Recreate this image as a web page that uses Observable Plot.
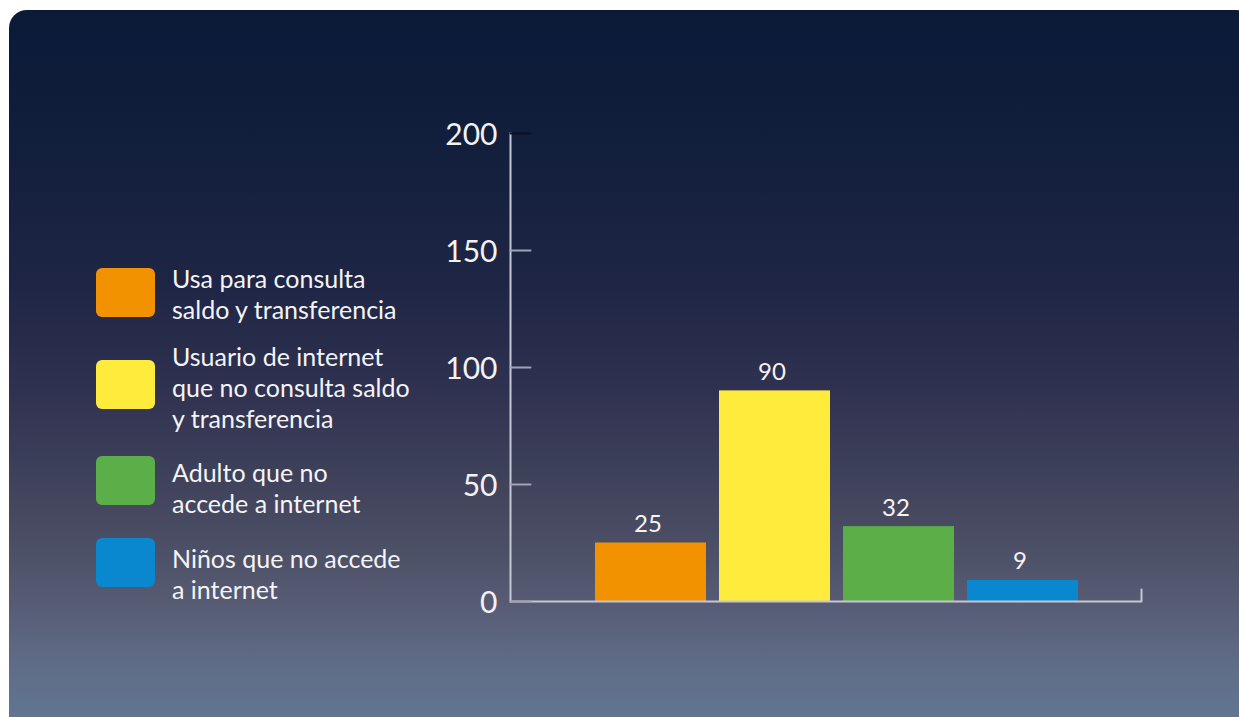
<!DOCTYPE html>
<html><head><meta charset="utf-8">
<script src="https://cdn.jsdelivr.net/npm/d3@7"></script>
<script src="https://cdn.jsdelivr.net/npm/@observablehq/plot@0.6"></script>
<style>
html,body{margin:0;padding:0;background:#fff;}
#wrap{position:relative;width:1239px;height:717px;overflow:hidden;font-family:Lato,"Open Sans",sans-serif;}
#panel{position:absolute;left:9px;top:10px;width:1245px;height:725px;border-radius:18px;
background:linear-gradient(to bottom,#0a1a37 0%,#111e3c 18%,#1f2645 38%,#2f3150 52%,#46495f 70%,#575c74 82%,#5f6c87 90%,#627793 100%);}
#legend,#chart{position:absolute;left:0;top:0;}
</style></head>
<body><div id="wrap"><div id="panel"></div><svg id="legend" width="1239" height="717"></svg><div id="chart"></div></div>
<script>
const categories = ["Usa para consulta saldo y transferencia","Usuario de internet que no consulta saldo y transferencia","Adulto que no accede a internet","Niños que no accede a internet"];
const values = [25, 90, 32, 9];
const colors = ["#f39200", "#ffeb3b", "#5cae48", "#0a88cf"];
const legendLines = [
  ["Usa para consulta", "saldo y transferencia"],
  ["Usuario de internet", "que no consulta saldo", "y transferencia"],
  ["Adulto que no", "accede a internet"],
  ["Niños que no accede", "a internet"]
];
const yTicks = [0, 50, 100, 150, 200];

const data = categories.map((c, i) => ({cat: c, value: values[i], color: colors[i]}));
const lineShape = {draw(ctx, l) { ctx.moveTo(0, 0); ctx.lineTo(0, -l); }};
const axisColor = "#c4c7d4";

const chart = Plot.plot({
  width: 1239, height: 717,
  marginLeft: 510, marginRight: 98, marginTop: 133, marginBottom: 116,
  style: {background: "transparent", color: "#f2f2f4", fontFamily: "Lato, 'Open Sans', sans-serif", overflow: "visible"},
  x: {domain: categories, range: [588.5, 1084.5], paddingInner: 0.105, paddingOuter: 0.0525, axis: null},
  y: {domain: [0, 200], axis: null},
  color: {type: "identity"},
  marks: [
    Plot.barY(data, {x: "cat", y: "value", fill: "color"}),
    Plot.ruleY([0], {stroke: axisColor, strokeWidth: 2}),
    Plot.frame({anchor: "left", stroke: axisColor, strokeWidth: 2}),
    Plot.vector(yTicks, {y: d => d, frameAnchor: "left", length: 20, rotate: 90, anchor: "start", shape: lineShape,
      stroke: d => d === 200 ? "#0b1020" : "#9ea3b8", strokeWidth: 2}),
    Plot.vector([0], {frameAnchor: "bottom-right", length: 12, anchor: "start", shape: lineShape, stroke: axisColor, strokeWidth: 2}),
    Plot.axisY(yTicks, {tickSize: 0, tickPadding: 13, fontSize: 30, fill: "#f2f2f4", dy: 2, label: null}),
    Plot.text(data, {x: "cat", y: "value", text: d => String(d.value), lineAnchor: "bottom", dy: -11, dx: -3, fill: "#f4f4f6", fontSize: 24})
  ]
});
document.getElementById("chart").appendChild(chart);

// legend
const swatchTop = [268, 360, 456, 538];
const firstBaseline = [288, 366, 482, 568];
const lg = d3.select("#legend");
legendLines.forEach((lines, i) => {
  lg.append("rect").attr("x", 96).attr("y", swatchTop[i]).attr("width", 59).attr("height", 49)
    .attr("rx", 6).attr("fill", colors[i]);
  const t = lg.append("text").attr("x", 172).attr("y", firstBaseline[i])
    .attr("fill", "#f4f4f6").attr("font-size", 25).attr("font-family", "Lato, 'Open Sans', sans-serif");
  lines.forEach((ln, j) => t.append("tspan").attr("x", 172).attr("y", firstBaseline[i] + j * 31).text(ln));
});
</script>
</body></html>
